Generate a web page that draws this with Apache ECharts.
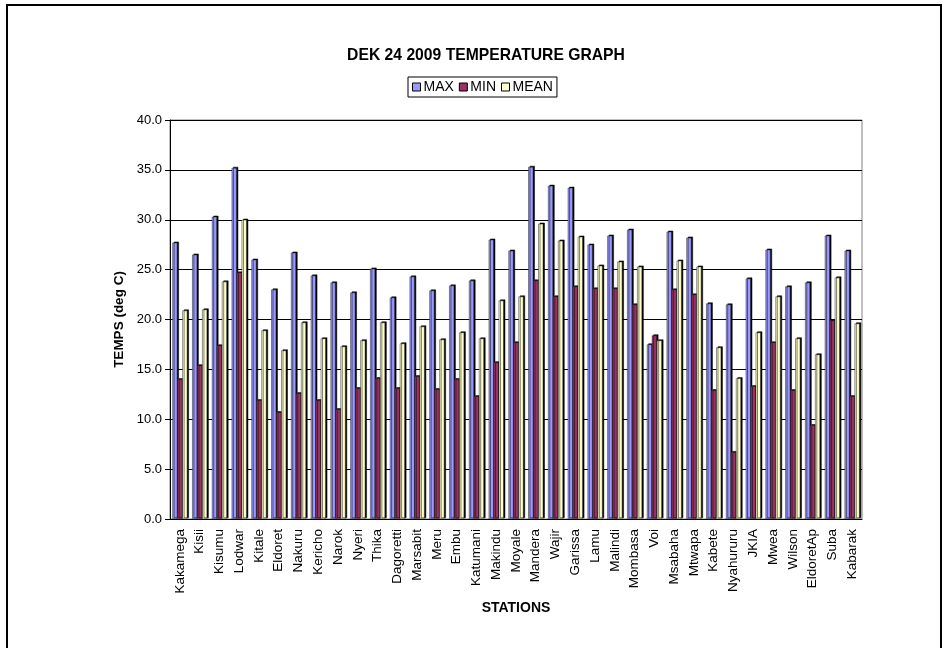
<!DOCTYPE html>
<html>
<head>
<meta charset="utf-8">
<title>DEK 24 2009 TEMPERATURE GRAPH</title>
<script src="https://cdn.jsdelivr.net/npm/echarts@6/dist/echarts.min.js"></script>
<style>
  html, body { margin: 0; padding: 0; background: #fff; }
  #chartmain { width: 948px; height: 648px; }
</style>
</head>
<body>
<div id="chartmain"></div>
<script>
// stations along the x axis
var stations = ['Kakamega', 'Kisii', 'Kisumu', 'Lodwar', 'Kitale', 'Eldoret', 'Nakuru', 'Kericho',
  'Narok', 'Nyeri', 'Thika', 'Dagoretti', 'Marsabit', 'Meru', 'Embu', 'Katumani', 'Makindu',
  'Moyale', 'Mandera', 'Wajir', 'Garissa', 'Lamu', 'Malindi', 'Mombasa', 'Voi', 'Msabaha',
  'Mtwapa', 'Kabete', 'Nyahururu', 'JKIA', 'Mwea', 'Wilson', 'EldoretAp', 'Suba', 'Kabarak'];

// temperatures (deg C)
var maxTemps = [27.7, 26.5, 30.3, 35.2, 26.0, 23.0, 26.7, 24.4, 23.7, 22.7, 25.1, 22.2, 24.3,
  22.9, 23.4, 23.9, 28.0, 26.9, 35.3, 33.4, 33.2, 27.5, 28.4, 29.0, 17.5, 28.8, 28.2, 21.6,
  21.5, 24.1, 27.0, 23.3, 23.7, 28.4, 26.9];
var minTemps = [14.0, 15.4, 17.4, 24.7, 11.9, 10.7, 12.6, 11.9, 11.0, 13.1, 14.1, 13.1, 14.3,
  13.0, 14.0, 12.3, 15.7, 17.7, 23.9, 22.3, 23.3, 23.1, 23.1, 21.5, 18.4, 23.0, 22.5, 12.9,
  6.7, 13.3, 17.7, 12.9, 9.4, 19.9, 12.3];
var meanTemps = [20.9, 21.0, 23.8, 30.0, 18.9, 16.9, 19.7, 18.1, 17.3, 17.9, 19.7, 17.6, 19.3,
  18.0, 18.7, 18.1, 21.9, 22.3, 29.6, 27.9, 28.3, 25.4, 25.8, 25.3, 17.9, 25.9, 25.3, 17.2,
  14.1, 18.7, 22.3, 18.1, 16.5, 24.2, 19.6];

var yTicks = { min: 0, max: 40, interval: 5 };

function barSeries(name, data, color) {
  return {
    name: name,
    type: 'bar',
    data: data,
    barWidth: 5,
    barGap: '0%',
    itemStyle: {
      color: color,
      borderColor: '#222',
      borderWidth: 0.5,
      shadowColor: '#000',
      shadowBlur: 0,
      shadowOffsetX: 1.5,
      shadowOffsetY: -1
    }
  };
}

var option = {
  backgroundColor: '#fff',
  textStyle: { fontFamily: 'Liberation Sans, Arial, sans-serif' },
  animation: false,
  title: {
    text: 'DEK 24 2009 TEMPERATURE GRAPH',
    left: 481,
    textAlign: 'center',
    top: 43,
    textStyle: { fontSize: 15.7, fontWeight: 'bold', color: '#000' }
  },
  legend: {
    data: ['MAX', 'MIN', 'MEAN'],
    left: 408,
    top: 77,
    orient: 'horizontal',
    padding: [3, 4, 3, 4],
    borderColor: '#000',
    borderWidth: 1,
    itemWidth: 8,
    itemHeight: 8,
    itemGap: 5,
    icon: 'rect',
    textStyle: { fontSize: 14, color: '#000', padding: [0, 0, 0, -2] },
    itemStyle: { borderColor: '#000', borderWidth: 1, shadowBlur: 0, shadowOffsetX: 0, shadowOffsetY: 0 }
  },
  grid: {
    left: 170,
    right: 86,
    top: 120,
    bottom: 129,
    show: true,
    borderColor: '#808080',
    borderWidth: 1
  },
  xAxis: {
    type: 'category',
    data: stations,
    name: 'STATIONS',
    nameLocation: 'middle',
    nameGap: 75,
    nameTextStyle: { fontSize: 14, fontWeight: 'bold', color: '#000' },
    axisLine: { lineStyle: { color: '#000' } },
    axisTick: { lineStyle: { color: '#000' }, length: 5 },
    axisLabel: { rotate: 90, interval: 0, fontSize: 13.5, color: '#000', margin: 10 }
  },
  yAxis: {
    type: 'value',
    min: yTicks.min,
    max: yTicks.max,
    interval: yTicks.interval,
    name: 'TEMPS (deg C)',
    nameLocation: 'middle',
    nameGap: 24,
    nameTextStyle: { fontSize: 13.5, fontWeight: 'bold', color: '#000' },
    axisLine: { show: true, lineStyle: { color: '#000' } },
    axisTick: { show: true, length: 5, lineStyle: { color: '#000' } },
    axisLabel: {
      fontSize: 13,
      color: '#000',
      margin: 8,
      formatter: function (v) { return v.toFixed(1); }
    },
    splitLine: { show: true, lineStyle: { color: '#000', width: 1 } }
  },
  graphic: [{
    type: 'rect',
    shape: { x: 7, y: 5, width: 934, height: 650 },
    style: { fill: 'none', stroke: '#000', lineWidth: 2 },
    silent: true
  }],
  series: [
    barSeries('MAX', maxTemps, '#9999FF'),
    barSeries('MIN', minTemps, '#993366'),
    barSeries('MEAN', meanTemps, '#FFFFCC')
  ]
};

var myChart = echarts.init(document.getElementById('chartmain'));
myChart.setOption(option);
</script>
</body>
</html>
